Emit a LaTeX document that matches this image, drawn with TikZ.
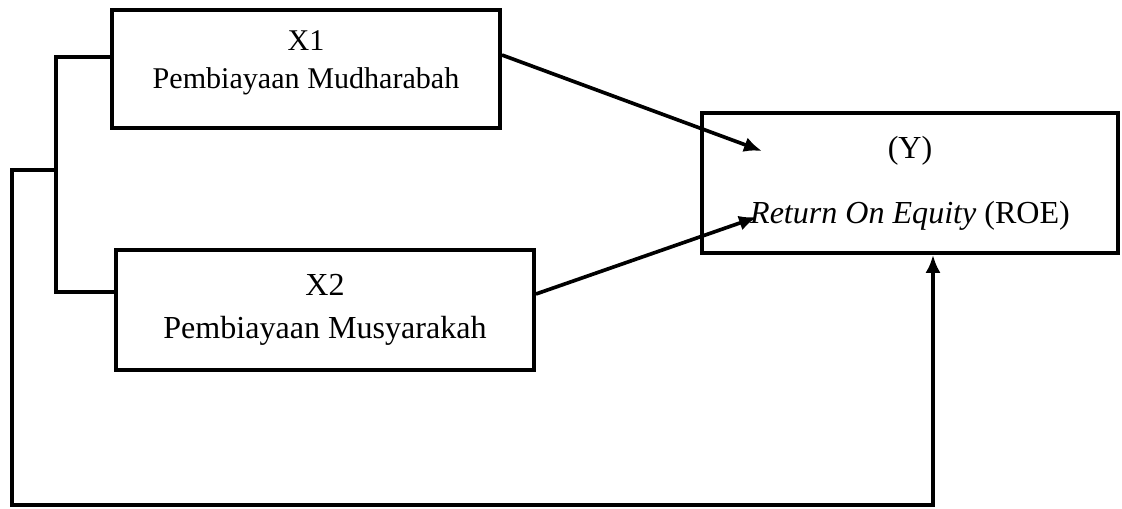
\documentclass[tikz,border=0pt]{standalone}
\usepackage{fontspec}
\setmainfont{Liberation Serif}
\usetikzlibrary{arrows.meta}

\begin{document}
\begin{tikzpicture}[x=0.025cm,y=-0.025cm,
  varbox/.style={draw=black, line width=2.7pt, fill=white, align=center,
    font=\fontsize{22.8}{27}\selectfont},
  link/.style={black, line width=2.6pt},
  flow/.style={link, -{Latex[length=0.45cm,width=0.38cm]}}]
  \useasboundingbox (0,0) rectangle (1122,508);

  % Independent variables
  \node[varbox, minimum width=9.7cm, minimum height=2.95cm, text depth=0.45cm, font=\fontsize{21.4}{27}\selectfont] (x1) at (306,69) {X1\\Pembiayaan Mudharabah};
  \node[varbox, minimum width=10.45cm, minimum height=3.0cm] (x2) at (325,310) {X2\\[4pt]Pembiayaan Musyarakah};

  % Dependent variable
  \node[varbox, minimum width=10.4cm, minimum height=3.5cm] (y) at (910,183) {(Y)\\[19pt]\textit{Return On Equity} (ROE)};

  % Joints
  \coordinate (jn) at (56,170);
  \coordinate (loop) at (12,505);
  \coordinate (yin1) at (762,151);
  \coordinate (yin2) at (757,217);

  % Partial effects
  \draw[flow] ([yshift=0.35cm]x1.east) -- (yin1);
  \draw[flow] ([yshift=0.4cm]x2.east) -- (yin2);

  % Joint effect
  \draw[link] ([yshift=0.3cm]x1.west) -| (jn) |- ([yshift=0.45cm]x2.west);
  \draw[flow] (jn) -| (loop) -| ([xshift=0.575cm]y.south);
\end{tikzpicture}
\end{document}
